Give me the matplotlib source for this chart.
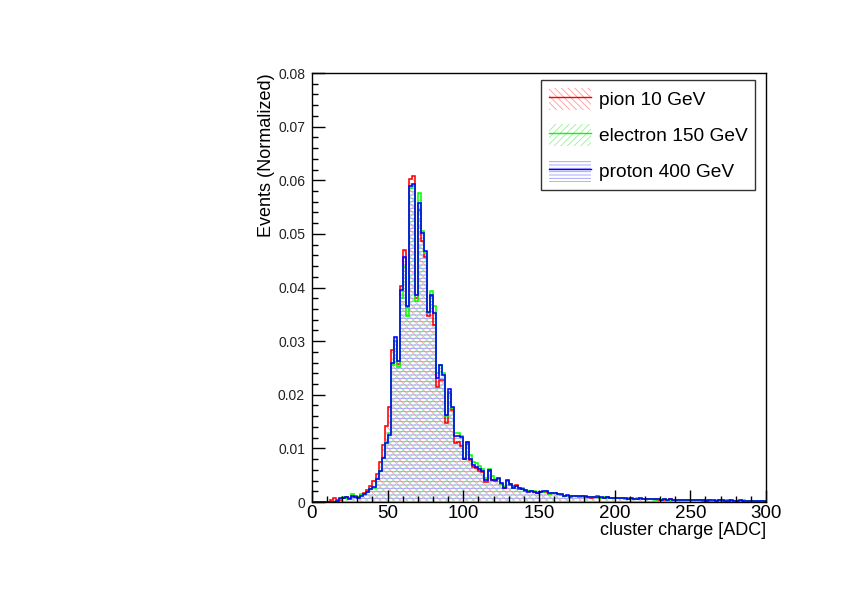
import numpy as np
import matplotlib
matplotlib.use("Agg")
import matplotlib.pyplot as plt
from matplotlib.patches import Patch
from matplotlib.lines import Line2D
from matplotlib.ticker import MultipleLocator, FuncFormatter

plt.rcParams['font.family'] = ['Liberation Sans', 'DejaVu Sans']
plt.rcParams['hatch.linewidth'] = 0.6

# cluster charge histograms, 2 ADC bins from 0 to 300
bin_edges = np.linspace(0, 300, 151)

pion_10 = [
    0, 0, 0, 0, 0, 0, 0.0004, 0.0008, 0.0003, 0.0003,
    0.0007, 0.0010, 0.0008, 0.0009, 0.0012, 0.0009, 0.0013, 0.0017, 0.0022, 0.0030,
    0.0040, 0.0052, 0.0075, 0.0106, 0.0142, 0.0178, 0.0283, 0.0300, 0.0258, 0.0403,
    0.0470, 0.0363, 0.0602, 0.0608, 0.0380, 0.0545, 0.0487, 0.0456, 0.0346, 0.0385,
    0.0330, 0.0215, 0.0228, 0.0228, 0.0148, 0.0204, 0.0172, 0.0110, 0.0112, 0.0105,
    0.0080, 0.0108, 0.0078, 0.0065, 0.0063, 0.0058, 0.0056, 0.0038, 0.0058, 0.0041,
    0.0040, 0.0042, 0.0034, 0.0026, 0.0039, 0.0032, 0.0030, 0.0031, 0.0025, 0.0024,
    0.0021, 0.0020, 0.0020, 0.0018, 0.0017, 0.0019, 0.0019, 0.0019, 0.0015, 0.0016,
    0.0016, 0.0015, 0.0013, 0.0012, 0.0012, 0.0010, 0.0011, 0.0011, 0.0010, 0.0011,
    0.0010, 0.0009, 0.0008, 0.0010, 0.0011, 0.0008, 0.0008, 0.0009, 0.0007, 0.0008,
    0.0007, 0.0007, 0.0007, 0.0006, 0.0006, 0.0006, 0.0006, 0.0005, 0.0006, 0.0005,
    0.0005, 0.0005, 0.0005, 0.0005, 0.0004, 0.0004, 0.0004, 0.0004, 0.0005, 0.0004,
    0.0004, 0.0003, 0.0003, 0.0003, 0.0004, 0.0003, 0.0003, 0.0003, 0.0003, 0.0002,
    0.0003, 0.0002, 0.0002, 0.0002, 0.0003, 0.0002, 0.0002, 0.0003, 0.0002, 0.0002,
    0.0002, 0.0002, 0.0002, 0.0002, 0.0002, 0.0001, 0.0002, 0.0002, 0.0001, 0.0001,
]

electron_150 = [
    0, 0, 0, 0, 0, 0, 0, 0, 0.0001, 0.0006,
    0.0010, 0.0008, 0.0007, 0.0015, 0.0009, 0.0009, 0.0014, 0.0013, 0.0018, 0.0024,
    0.0027, 0.0042, 0.0058, 0.0082, 0.0112, 0.0128, 0.0255, 0.0300, 0.0252, 0.0380,
    0.0439, 0.0346, 0.0585, 0.0590, 0.0374, 0.0576, 0.0505, 0.0465, 0.0352, 0.0393,
    0.0365, 0.0240, 0.0256, 0.0240, 0.0160, 0.0205, 0.0175, 0.0129, 0.0129, 0.0123,
    0.0082, 0.0112, 0.0088, 0.0074, 0.0072, 0.0068, 0.0062, 0.0044, 0.0061, 0.0048,
    0.0042, 0.0043, 0.0034, 0.0029, 0.0040, 0.0034, 0.0027, 0.0029, 0.0027, 0.0026,
    0.0022, 0.0021, 0.0020, 0.0020, 0.0018, 0.0018, 0.0019, 0.0021, 0.0015, 0.0017,
    0.0016, 0.0014, 0.0013, 0.0012, 0.0012, 0.0012, 0.0011, 0.0012, 0.0010, 0.0011,
    0.0010, 0.0010, 0.0009, 0.0009, 0.0009, 0.0008, 0.0010, 0.0008, 0.0008, 0.0007,
    0.0008, 0.0007, 0.0007, 0.0006, 0.0007, 0.0006, 0.0006, 0.0007, 0.0006, 0.0005,
    0.0005, 0.0006, 0.0005, 0.0004, 0.0005, 0.0004, 0.0005, 0.0004, 0.0004, 0.0004,
    0.0003, 0.0004, 0.0004, 0.0003, 0.0003, 0.0003, 0.0004, 0.0003, 0.0003, 0.0003,
    0.0002, 0.0003, 0.0002, 0.0003, 0.0002, 0.0002, 0.0003, 0.0002, 0.0002, 0.0002,
    0.0002, 0.0002, 0.0003, 0.0002, 0.0002, 0.0002, 0.0001, 0.0002, 0.0002, 0.0002,
]

proton_400 = [
    0, 0, 0, 0, 0, 0, 0, 0, 0.0002, 0.0008,
    0.0008, 0.0009, 0.0006, 0.0011, 0.0010, 0.0008, 0.0012, 0.0015, 0.0019, 0.0024,
    0.0028, 0.0042, 0.0058, 0.0082, 0.0110, 0.0125, 0.0259, 0.0307, 0.0263, 0.0395,
    0.0456, 0.0365, 0.0589, 0.0593, 0.0386, 0.0557, 0.0501, 0.0468, 0.0355, 0.0386,
    0.0353, 0.0231, 0.0255, 0.0237, 0.0162, 0.0210, 0.0178, 0.0123, 0.0123, 0.0121,
    0.0080, 0.0111, 0.0080, 0.0069, 0.0065, 0.0061, 0.0058, 0.0041, 0.0060, 0.0041,
    0.0041, 0.0044, 0.0035, 0.0027, 0.0041, 0.0033, 0.0026, 0.0030, 0.0026, 0.0025,
    0.0022, 0.0019, 0.0021, 0.0019, 0.0017, 0.0018, 0.0020, 0.0020, 0.0016, 0.0017,
    0.0017, 0.0014, 0.0014, 0.0012, 0.0013, 0.0011, 0.0012, 0.0011, 0.0011, 0.0012,
    0.0011, 0.0009, 0.0009, 0.0010, 0.0009, 0.0009, 0.0008, 0.0009, 0.0008, 0.0008,
    0.0008, 0.0007, 0.0008, 0.0007, 0.0006, 0.0007, 0.0006, 0.0006, 0.0007, 0.0005,
    0.0006, 0.0005, 0.0006, 0.0005, 0.0005, 0.0004, 0.0005, 0.0004, 0.0005, 0.0004,
    0.0004, 0.0004, 0.0003, 0.0004, 0.0004, 0.0003, 0.0003, 0.0004, 0.0003, 0.0003,
    0.0002, 0.0003, 0.0003, 0.0002, 0.0003, 0.0003, 0.0002, 0.0002, 0.0003, 0.0002,
    0.0002, 0.0003, 0.0002, 0.0002, 0.0002, 0.0002, 0.0002, 0.0001, 0.0002, 0.0001,
]

labels = ['pion 10 GeV', 'electron 150 GeV', 'proton 400 GeV']
line_colors = ['#ff0000', '#00ff00', '#0000ff']
hatch_colors = ['#ff9a9a', '#9af09a', '#9a9aff']
hatches = ['\\\\\\\\\\', '/////', '-----']
series = [pion_10, electron_150, proton_400]

fig = plt.figure(figsize=(8.42, 5.95), dpi=100)
ax = fig.add_axes([0.3705, 0.1563, 0.5392, 0.7210])

# hatched fills first, outlines on top
for vals, hc, h in zip(series, hatch_colors, hatches):
    ax.stairs(vals, bin_edges, fill=True, facecolor='none', edgecolor=hc,
              hatch=h, linewidth=0)
for vals, lc in zip(series, line_colors):
    ax.stairs(vals, bin_edges, color=lc, linewidth=1.15)

ax.set_xlim(0, 300)
ax.set_ylim(0, 0.08)
ax.xaxis.set_major_locator(MultipleLocator(50))
ax.xaxis.set_minor_locator(MultipleLocator(10))
ax.yaxis.set_major_locator(MultipleLocator(0.01))
ax.yaxis.set_minor_locator(MultipleLocator(0.002))
ax.yaxis.set_major_formatter(FuncFormatter(lambda v, p: '0' if v == 0 else f'{v:.2f}'))
ax.tick_params(axis='both', which='major', direction='in', length=9, width=1,
               top=False, right=False)
ax.tick_params(axis='both', which='minor', direction='in', length=4.5, width=1,
               top=False, right=False)
ax.tick_params(axis='x', labelsize=13.5, pad=2)
ax.tick_params(axis='y', labelsize=10, pad=5, labelcolor='#222222')
for s in ax.spines.values():
    s.set_linewidth(1.0)

ax.set_xlabel('cluster charge [ADC]', fontsize=13, loc='right', labelpad=0)
ax.set_ylabel('Events (Normalized)', fontsize=13, loc='top', labelpad=2)

handles = []
for lc, hc, h in zip(line_colors, hatch_colors, hatches):
    p = Patch(facecolor='none', edgecolor=hc, hatch=h, linewidth=0)
    l = Line2D([], [], color=lc, linewidth=1.0)
    handles.append((p, l))
leg = ax.legend(handles, labels, loc='upper right', fontsize=13.8,
                bbox_to_anchor=(0.985, 0.992), frameon=True, fancybox=False,
                edgecolor='black', handlelength=2.2, handleheight=1.4,
                labelspacing=0.72, borderpad=0.4, handletextpad=0.4,
                borderaxespad=0.2)
leg.get_frame().set_linewidth(1.0)

fig.savefig('out.png', dpi=100, facecolor='white')
